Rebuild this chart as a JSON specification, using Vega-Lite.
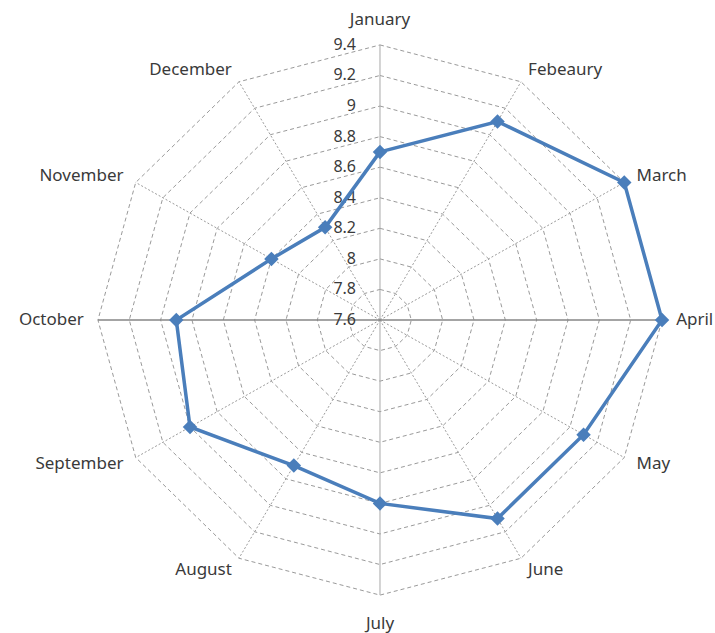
{
  "$schema": "https://vega.github.io/schema/vega-lite/v6.json",
  "width": 715,
  "height": 633,
  "padding": 0,
  "autosize": "none",
  "background": "white",
  "config": {"view": {"stroke": null}, "text": {"font": "Noto Sans", "fontSize": 16, "color": "#3a3a3a"}},
  "datasets": {
    "months": [
      {"month": "January", "value": 8.7},
      {"month": "Febeaury", "value": 9.1},
      {"month": "March", "value": 9.4},
      {"month": "April", "value": 9.4},
      {"month": "May", "value": 9.1},
      {"month": "June", "value": 9.1},
      {"month": "July", "value": 8.8},
      {"month": "August", "value": 8.7},
      {"month": "September", "value": 9.0},
      {"month": "October", "value": 8.9},
      {"month": "November", "value": 8.4},
      {"month": "December", "value": 8.3}
    ],
    "levels": [
      {"level": 7.6}, {"level": 7.8}, {"level": 8.0}, {"level": 8.2}, {"level": 8.4},
      {"level": 8.6}, {"level": 8.8}, {"level": 9.0}, {"level": 9.2}, {"level": 9.4}
    ],
    "grid": [
      {"level": [7.8, 8.0, 8.2, 8.4, 8.6, 8.8, 9.0, 9.2, 9.4],
       "month": ["January", "Febeaury", "March", "April", "May", "June", "July", "August", "September", "October", "November", "December"]}
    ]
  },
  "encoding": {
    "x": {"field": "px", "type": "quantitative", "scale": {"domain": [-2.425, 2.138], "nice": false, "zero": false}, "axis": null},
    "y": {"field": "py", "type": "quantitative", "scale": {"domain": [-2.048, 2.094], "nice": false, "zero": false}, "axis": null}
  },
  "layer": [
    {
      "data": {"name": "grid"},
      "transform": [
        {"flatten": ["level"]},
        {"flatten": ["month"]},
        {"window": [{"op": "row_number", "as": "n"}], "groupby": ["level"]},
        {"calculate": "(datum.n - 1) * PI / 6", "as": "ang"},
        {"calculate": "(datum.level - 7.6) * sin(datum.ang)", "as": "px"},
        {"calculate": "(datum.level - 7.6) * cos(datum.ang)", "as": "py"}
      ],
      "mark": {"type": "line", "interpolate": "linear-closed", "stroke": "#9a9a9a", "strokeWidth": 1, "strokeDash": [4, 3]},
      "encoding": {
        "detail": {"field": "level", "type": "nominal"},
        "order": {"field": "n", "type": "quantitative"}
      }
    },
    {
      "data": {"name": "months"},
      "transform": [
        {"window": [{"op": "row_number", "as": "n"}]},
        {"filter": "(datum.n - 1) % 3 != 0"},
        {"calculate": "(datum.n - 1) * PI / 6", "as": "ang"},
        {"calculate": "0", "as": "px"},
        {"calculate": "0", "as": "py"},
        {"calculate": "1.8 * sin(datum.ang)", "as": "px2"},
        {"calculate": "1.8 * cos(datum.ang)", "as": "py2"}
      ],
      "mark": {"type": "rule", "stroke": "#9a9a9a", "strokeWidth": 1, "strokeDash": [2, 2]},
      "encoding": {
        "x2": {"field": "px2"},
        "y2": {"field": "py2"}
      }
    },
    {
      "data": {"name": "months"},
      "transform": [
        {"window": [{"op": "row_number", "as": "n"}]},
        {"filter": "datum.n == 1 || datum.n == 7"},
        {"calculate": "(datum.n - 1) * PI / 6", "as": "ang"},
        {"calculate": "0", "as": "px"},
        {"calculate": "0", "as": "py"},
        {"calculate": "1.8 * sin(datum.ang)", "as": "px2"},
        {"calculate": "1.8 * cos(datum.ang)", "as": "py2"}
      ],
      "mark": {"type": "rule", "stroke": "#a8a8a8", "strokeWidth": 1},
      "encoding": {
        "x2": {"field": "px2"},
        "y2": {"field": "py2"}
      }
    },
    {
      "data": {"name": "months"},
      "transform": [
        {"window": [{"op": "row_number", "as": "n"}]},
        {"filter": "datum.n == 4 || datum.n == 10"},
        {"calculate": "(datum.n - 1) * PI / 6", "as": "ang"},
        {"calculate": "0", "as": "px"},
        {"calculate": "0", "as": "py"},
        {"calculate": "1.8 * sin(datum.ang)", "as": "px2"},
        {"calculate": "1.8 * cos(datum.ang)", "as": "py2"}
      ],
      "mark": {"type": "rule", "stroke": "#868686", "strokeWidth": 1.3},
      "encoding": {
        "x2": {"field": "px2"},
        "y2": {"field": "py2"}
      }
    },
    {
      "data": {"name": "levels"},
      "transform": [
        {"calculate": "0", "as": "px"},
        {"calculate": "datum.level - 7.6", "as": "py"},
        {"calculate": "format(datum.level, '.1~f')", "as": "lab"}
      ],
      "mark": {"type": "text", "align": "right", "baseline": "middle", "dx": -24},
      "encoding": {"text": {"field": "lab"}}
    },
    {
      "data": {"name": "months"},
      "transform": [
        {"window": [{"op": "row_number", "as": "n"}]},
        {"calculate": "(datum.n - 1) * PI / 6", "as": "ang"},
        {"calculate": "(datum.value - 7.6) * sin(datum.ang)", "as": "px"},
        {"calculate": "(datum.value - 7.6) * cos(datum.ang)", "as": "py"}
      ],
      "layer": [
        {
          "mark": {"type": "line", "interpolate": "linear-closed", "stroke": "#4a7ebb", "strokeWidth": 3.5},
          "encoding": {"order": {"field": "n", "type": "quantitative"}}
        },
        {
          "mark": {"type": "point", "shape": "diamond", "filled": true, "size": 210, "color": "#4a7ebb", "opacity": 1}
        }
      ]
    },
    {
      "data": {"name": "months"},
      "transform": [
        {"window": [{"op": "row_number", "as": "n"}]},
        {"filter": "datum.n >= 2 && datum.n <= 6"},
        {"calculate": "(datum.n - 1) * PI / 6", "as": "ang"},
        {"calculate": "1.89 * sin(datum.ang)", "as": "px"},
        {"calculate": "1.89 * cos(datum.ang)", "as": "py"}
      ],
      "mark": {"type": "text", "align": "left", "baseline": "middle", "fontSize": 17},
      "encoding": {"text": {"field": "month"}}
    },
    {
      "data": {"name": "months"},
      "transform": [
        {"window": [{"op": "row_number", "as": "n"}]},
        {"filter": "datum.n >= 8"},
        {"calculate": "(datum.n - 1) * PI / 6", "as": "ang"},
        {"calculate": "1.89 * sin(datum.ang)", "as": "px"},
        {"calculate": "1.89 * cos(datum.ang)", "as": "py"}
      ],
      "mark": {"type": "text", "align": "right", "baseline": "middle", "fontSize": 17},
      "encoding": {"text": {"field": "month"}}
    },
    {
      "data": {"name": "months"},
      "transform": [
        {"window": [{"op": "row_number", "as": "n"}]},
        {"filter": "datum.n == 1 || datum.n == 7"},
        {"calculate": "(datum.n - 1) * PI / 6", "as": "ang"},
        {"calculate": "(datum.n == 1 ? 1.96 : 1.99) * sin(datum.ang)", "as": "px"},
        {"calculate": "(datum.n == 1 ? 1.96 : 1.99) * cos(datum.ang)", "as": "py"}
      ],
      "mark": {"type": "text", "align": "center", "baseline": "middle", "fontSize": 17},
      "encoding": {"text": {"field": "month"}}
    }
  ]
}
